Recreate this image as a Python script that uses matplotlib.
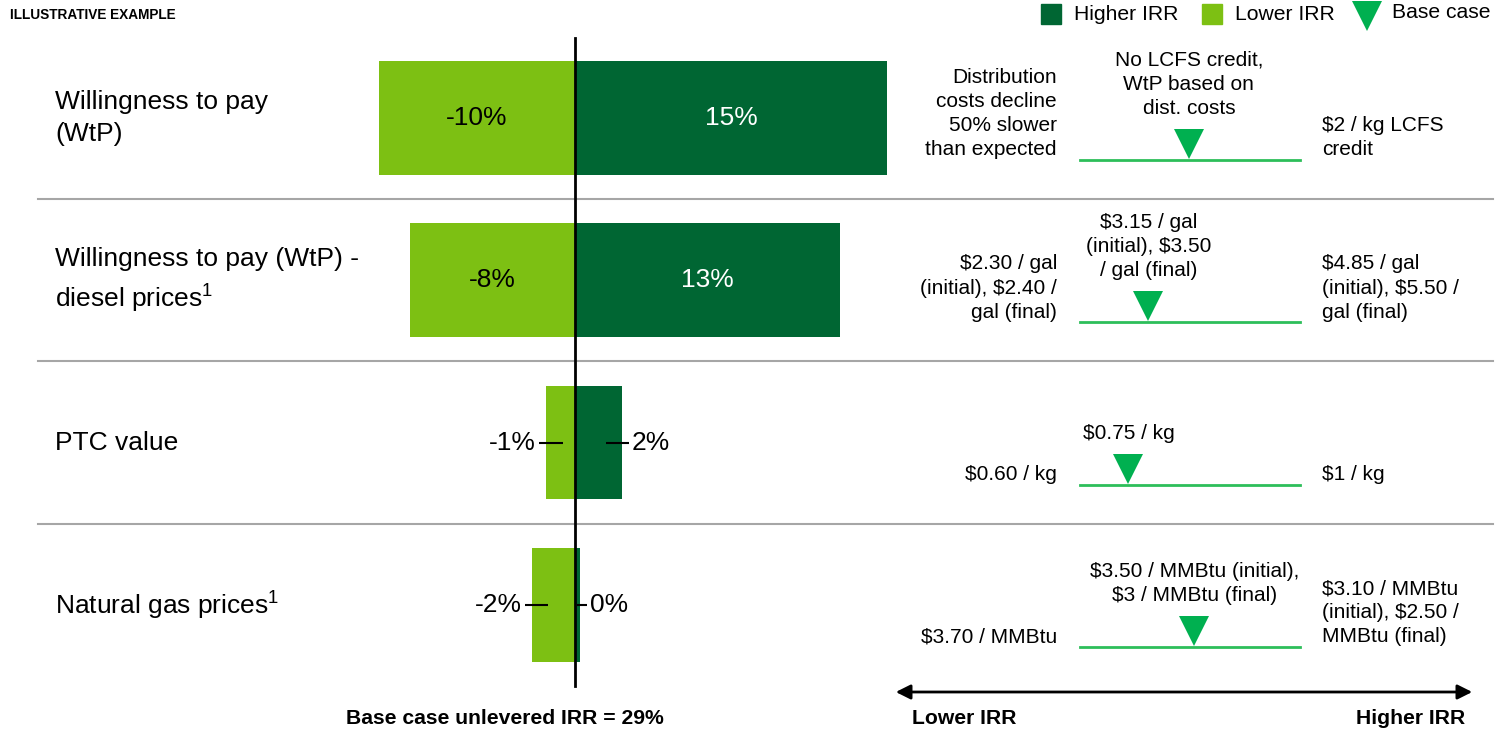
"""Tornado chart: IRR sensitivity of the base case to key input assumptions."""

import matplotlib
matplotlib.use("Agg")
import matplotlib.pyplot as plt
from matplotlib.patches import Rectangle, FancyArrowPatch
from matplotlib.lines import Line2D

plt.rcParams["font.family"] = ["Liberation Sans", "DejaVu Sans"]
plt.rcParams["mathtext.fontset"] = "custom"
plt.rcParams["mathtext.rm"] = "Liberation Sans"

# --- data ---
drivers = [
    "Willingness to pay\n(WtP)",
    "Willingness to pay (WtP) -\ndiesel prices$^{\\mathregular{1}}$",
    "PTC value",
    "Natural gas prices$^{\\mathregular{1}}$",
]
lower_irr = [-9.6, -8.1, -1.4, -2.1]   # change in IRR, percentage points
higher_irr = [15.3, 13.0, 2.3, 0.25]
inside_labels = [True, True, False, False]

low_case = [
    "Distribution\ncosts decline\n50% slower\nthan expected",
    "$2.30 / gal\n(initial), $2.40 /\ngal (final)",
    "$0.60 / kg",
    "$3.70 / MMBtu",
]
base_case = [
    "No LCFS credit,\nWtP based on\ndist. costs",
    "$3.15 / gal\n(initial), $3.50\n/ gal (final)",
    "$0.75 / kg",
    "$3.50 / MMBtu (initial),\n$3 / MMBtu (final)",
]
high_case = [
    "$2 / kg LCFS\ncredit",
    "$4.85 / gal\n(initial), $5.50 /\ngal (final)",
    "$1 / kg",
    "$3.10 / MMBtu\n(initial), $2.50 /\nMMBtu (final)",
]
base_position = [0.495, 0.31, 0.22, 0.52]  # where the base case sits between low and high
base_irr = 29

DARK = "#006633"
LIGHT = "#7DC013"
TRI = "#00B050"
LINE = "#2DBE5A"
GRID = "#A6A6A6"

W, H = 1510, 732
fig = plt.figure(figsize=(W / 100, H / 100), dpi=100)


def fx(px):
    return px / W


def fy(py):
    return 1 - py / H


# bar axes covers the whole figure; 0% sits at x=575px, 20.4 px per point
ax = fig.add_axes([0, 0, 1, 1])
ax.set_xlim(-575 / 20.4, (W - 575) / 20.4)
ax.set_ylim((H - 118) / 162.3, -118 / 162.3)
ax.axis("off")

n = len(drivers)
ys = list(range(n))
ax.barh(ys, higher_irr, height=0.70, color=DARK, zorder=2)
ax.barh(ys, lower_irr, height=0.70, color=LIGHT, zorder=2)
ax.axvline(0, ymin=fy(686), ymax=fy(38), color="black", lw=2, zorder=4)

for i in range(n - 1):
    ax.axhline(i + 0.5, xmin=fx(38), xmax=fx(1493), color=GRID, lw=1.5, zorder=1)

for i, (lo, hi) in enumerate(zip(lower_irr, higher_irr)):
    if inside_labels[i]:
        ax.text(lo / 2, i, f"{lo:.0f}%", ha="center", va="center", fontsize=19, color="black", zorder=5)
        ax.text(hi / 2, i, f"{hi:.0f}%", ha="center", va="center", fontsize=19, color="white", zorder=5)
    else:
        for v, ha in ((lo, "right"), (hi, "left")):
            s = 1 if v >= 0 else -1
            inward = min(0.8, abs(v) - 0.1)
            ax.plot([v - s * inward, v + s * 0.35], [i, i], color="black", lw=1.5, zorder=5,
                    solid_capstyle="butt")
            ax.text(v + s * 0.5, i, f"{v:.0f}%", ha=ha, va="center", fontsize=19, zorder=5)
    ax.text(-520 / 20.4, i, drivers[i], ha="left", va="center", fontsize=19, linespacing=1.38)

# range panel: low case on the left, high case on the right, base case marker
rax = fig.add_axes([fx(1080), 0, fx(220), 1])
rax.set_xlim(0, 1)
rax.set_ylim(ax.get_ylim())
rax.axis("off")
for i in range(n):
    yl = i + 0.26
    rax.plot([0, 1], [yl, yl], color=LINE, lw=2, clip_on=False)
    rax.plot(base_position[i], yl - 0.1, marker="v", markersize=21, color=TRI,
             markeredgewidth=0, clip_on=False)
    rax.text(-0.105, yl - 0.005, low_case[i], ha="right", va="bottom", fontsize=15,
             multialignment="right", linespacing=1.34, clip_on=False)
    rax.text(1.1, yl - 0.005, high_case[i], ha="left", va="bottom", fontsize=15,
             multialignment="left", linespacing=1.34, clip_on=False)
    rax.text(base_position[i], yl - 0.26, base_case[i], ha="center", va="bottom", fontsize=15,
             multialignment="center", linespacing=1.34, clip_on=False)

# header
fig.text(fx(10), fy(15), "ILLUSTRATIVE EXAMPLE", fontsize=9.8, fontweight="bold", va="center")
fig.patches.append(Rectangle((fx(1041), fy(24)), fx(20), 20 / H, color=DARK, transform=fig.transFigure))
fig.text(fx(1074), fy(15), "Higher IRR", fontsize=15.2, va="center")
fig.patches.append(Rectangle((fx(1202), fy(24)), fx(20), 20 / H, color=LIGHT, transform=fig.transFigure))
fig.text(fx(1235), fy(15), "Lower IRR", fontsize=15.2, va="center")
fig.lines.append(Line2D([fx(1367)], [fy(16)], marker="v", markersize=21, color=TRI,
                        markeredgewidth=0, transform=fig.transFigure))
fig.text(fx(1392), fy(13), "Base case", fontsize=15.2, va="center")

# footer
fig.text(fx(505), fy(719), f"Base case unlevered IRR = {base_irr}%", fontsize=15.2,
         fontweight="bold", ha="center", va="center")
fig.patches.append(FancyArrowPatch(
    (fx(893), fy(692)), (fx(1475), fy(692)), arrowstyle="<|-|>", mutation_scale=22,
    color="black", lw=2, transform=fig.transFigure))
fig.text(fx(912), fy(719), "Lower IRR", fontsize=15.2, fontweight="bold", va="center")
fig.text(fx(1465), fy(719), "Higher IRR", fontsize=15.2, fontweight="bold", ha="right", va="center")

fig.savefig("out.png", dpi=100)
